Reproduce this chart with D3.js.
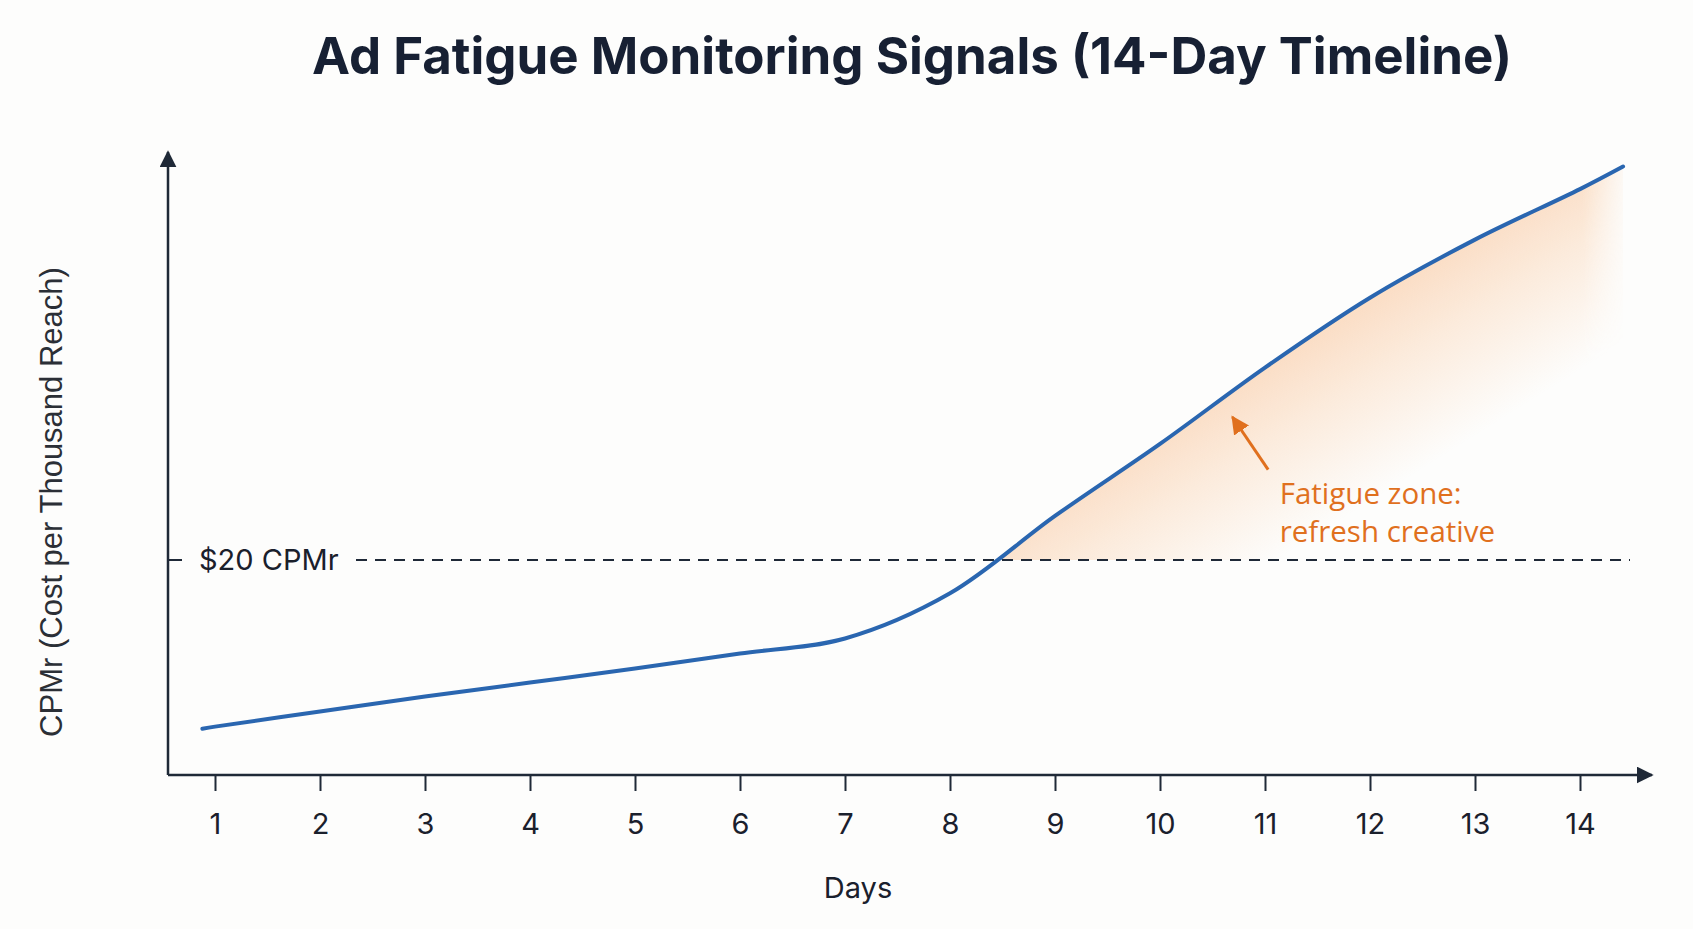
<!DOCTYPE html>
<html>
<head>
<meta charset="utf-8">
<script src="https://cdn.jsdelivr.net/npm/d3@7"></script>
<style>
  html, body { margin: 0; padding: 0; background: #fdfdfc; }
  svg { display: block; }
</style>
</head>
<body>
<div id="chart"></div>
<script>
// data
const days = [1, 2, 3, 4, 5, 6, 7, 8, 9, 10, 11, 12, 13, 14];
const cpmr = [4.5, 5.9, 7.3, 8.6, 9.9, 11.3, 12.7, 16.9, 24.1, 30.8, 37.9, 44.4, 49.8, 54.5];
// the drawn line runs a little past day 1 and day 14
const leadIn = [0.88, 4.3];
const leadOut = [14.41, 56.6];
const threshold = 20;
const thresholdLabel = "$20 CPMr";
const title = "Ad Fatigue Monitoring Signals (14-Day Timeline)";
const xTitle = "Days";
const yTitle = "CPMr (Cost per Thousand Reach)";
const noteLines = ["Fatigue zone:", "refresh creative"];

const width = 1693;
const height = 929;

const axisColor = "#1f2937";
const lineColor = "#2a66b0";
const orange = "#e0701e";

// axes frame
const originX = 168;
const originY = 775;

const x = d3.scaleLinear().domain([1, 14]).range([215, 1580]);
const y = d3.scaleLinear().domain([0, 60]).range([originY, originY - 645]);

const points = [leadIn, ...days.map((d, i) => [d, cpmr[i]]), leadOut];
const curve = d3.curveCatmullRom.alpha(0.5);

const svg = d3.select("#chart")
  .append("svg")
  .attr("width", width)
  .attr("height", height)
  .style("background", "#fdfdfc");

const defs = svg.append("defs");

// arrow heads
defs.append("marker")
  .attr("id", "axisArrow")
  .attr("viewBox", "0 -5 10 10")
  .attr("refX", 9)
  .attr("refY", 0)
  .attr("markerUnits", "userSpaceOnUse")
  .attr("markerWidth", 17)
  .attr("markerHeight", 17)
  .attr("orient", "auto")
  .append("path")
  .attr("fill", axisColor)
  .attr("d", "M0,-5L10,0L0,5Z");

defs.append("marker")
  .attr("id", "noteArrow")
  .attr("viewBox", "0 -5 10 10")
  .attr("refX", 9)
  .attr("refY", 0)
  .attr("markerUnits", "userSpaceOnUse")
  .attr("markerWidth", 18)
  .attr("markerHeight", 18)
  .attr("orient", "auto")
  .append("path")
  .attr("fill", orange)
  .attr("d", "M0,-5L10,0L0,5Z");

// fatigue zone: area between line and threshold, fading away from the line
const crossIdx = cpmr.findIndex(v => v >= threshold);
const crossDay = days[crossIdx - 1] +
  (threshold - cpmr[crossIdx - 1]) / (cpmr[crossIdx] - cpmr[crossIdx - 1]);
const p0 = [x(crossDay), y(threshold)];
const p1 = [x(leadOut[0]), y(leadOut[1])];
const dx = p1[0] - p0[0], dy = p1[1] - p0[1];
const len = Math.hypot(dx, dy);
const nx = -dy / len, ny = dx / len; // points down-right
const mid = [(p0[0] + p1[0]) / 2, (p0[1] + p1[1]) / 2];

const zoneGrad = defs.append("linearGradient")
  .attr("id", "zoneGrad")
  .attr("gradientUnits", "userSpaceOnUse")
  .attr("x1", mid[0] - nx * 30).attr("y1", mid[1] - ny * 30)
  .attr("x2", mid[0] + nx * 150).attr("y2", mid[1] + ny * 150);
zoneGrad.append("stop").attr("offset", 0).attr("stop-color", "#f8a35c").attr("stop-opacity", 0.36);
zoneGrad.append("stop").attr("offset", 0.4).attr("stop-color", "#f8a35c").attr("stop-opacity", 0.2);
zoneGrad.append("stop").attr("offset", 1).attr("stop-color", "#f8a35c").attr("stop-opacity", 0);

const fadeGrad = defs.append("linearGradient")
  .attr("id", "fadeGrad")
  .attr("gradientUnits", "userSpaceOnUse")
  .attr("x1", x(leadOut[0]) - 40).attr("y1", 0)
  .attr("x2", x(leadOut[0]) + 8).attr("y2", 0);
fadeGrad.append("stop").attr("offset", 0).attr("stop-color", "#fff");
fadeGrad.append("stop").attr("offset", 1).attr("stop-color", "#000");

defs.append("mask")
  .attr("id", "fadeMask")
  .attr("maskUnits", "userSpaceOnUse")
  .attr("x", 0).attr("y", 0).attr("width", width).attr("height", height)
  .append("rect")
  .attr("width", width)
  .attr("height", height)
  .attr("fill", "url(#fadeGrad)");

defs.append("clipPath")
  .attr("id", "aboveThreshold")
  .append("rect")
  .attr("x", 0).attr("y", 0)
  .attr("width", width)
  .attr("height", y(threshold));

const area = d3.area()
  .x(d => x(d[0]))
  .y0(y(threshold))
  .y1(d => y(d[1]))
  .curve(curve);

svg.append("g")
  .attr("clip-path", "url(#aboveThreshold)")
  .append("path")
  .datum(points)
  .attr("d", area)
  .attr("fill", "url(#zoneGrad)")
  .attr("mask", "url(#fadeMask)");

// threshold line
svg.append("line")
  .attr("x1", originX + 188).attr("x2", 1630)
  .attr("y1", y(threshold)).attr("y2", y(threshold))
  .attr("stroke", axisColor)
  .attr("stroke-width", 2)
  .attr("stroke-dasharray", "11,8");

svg.append("line")
  .attr("x1", originX).attr("x2", originX + 14)
  .attr("y1", y(threshold)).attr("y2", y(threshold))
  .attr("stroke", axisColor)
  .attr("stroke-width", 2);

svg.append("text")
  .attr("x", originX + 31)
  .attr("y", y(threshold) + 10)
  .attr("font-family", "Inter, 'Noto Sans', sans-serif")
  .attr("font-size", 29)
  .attr("fill", "#1a202c")
  .text(thresholdLabel);

// axes
svg.append("line")
  .attr("x1", originX).attr("y1", originY)
  .attr("x2", originX).attr("y2", 152)
  .attr("stroke", axisColor)
  .attr("stroke-width", 2.5)
  .attr("marker-end", "url(#axisArrow)");

svg.append("line")
  .attr("x1", originX).attr("y1", originY)
  .attr("x2", 1652).attr("y2", originY)
  .attr("stroke", axisColor)
  .attr("stroke-width", 2.5)
  .attr("marker-end", "url(#axisArrow)");

const xAxis = svg.append("g")
  .attr("transform", `translate(0,${originY})`)
  .call(d3.axisBottom(x).tickValues(days).tickSize(16).tickPadding(22).tickFormat(d3.format("d")));

xAxis.select(".domain").remove();
xAxis.selectAll(".tick line")
  .attr("stroke", axisColor)
  .attr("stroke-width", 2);
xAxis.selectAll(".tick text")
  .attr("font-family", "Inter, 'Noto Sans', sans-serif")
  .attr("font-size", 29)
  .attr("fill", "#1a202c");

// CPMr line
const line = d3.line()
  .x(d => x(d[0]))
  .y(d => y(d[1]))
  .curve(curve);

svg.append("path")
  .datum(points)
  .attr("d", line)
  .attr("fill", "none")
  .attr("stroke", lineColor)
  .attr("stroke-width", 4)
  .attr("stroke-linecap", "round");

// annotation
svg.append("line")
  .attr("x1", x(11.03)).attr("y1", y(28.4))
  .attr("x2", x(10.69)).attr("y2", y(33.3))
  .attr("stroke", orange)
  .attr("stroke-width", 3)
  .attr("marker-end", "url(#noteArrow)");

svg.append("text")
  .attr("font-family", "'Open Sans', 'Noto Sans', sans-serif")
  .attr("font-size", 29.5)
  .attr("fill", orange)
  .selectAll("tspan")
  .data(noteLines)
  .join("tspan")
  .attr("x", x(11.14))
  .attr("y", (d, i) => y(25.2) + i * 38)
  .text(d => d);

// titles
svg.append("text")
  .attr("x", 912)
  .attr("y", 74)
  .attr("text-anchor", "middle")
  .attr("font-family", "Inter, 'Noto Sans', sans-serif")
  .attr("font-weight", 700)
  .attr("font-size", 51)
  .attr("fill", "#172033")
  .text(title);

svg.append("text")
  .attr("x", 858)
  .attr("y", 898)
  .attr("text-anchor", "middle")
  .attr("font-family", "Inter, 'Noto Sans', sans-serif")
  .attr("font-size", 29)
  .attr("fill", "#1a202c")
  .text(xTitle);

svg.append("text")
  .attr("transform", "translate(62,502) rotate(-90)")
  .attr("text-anchor", "middle")
  .attr("font-family", "'Liberation Sans', Arial, sans-serif")
  .attr("font-size", 31)
  .attr("fill", "#2b2f36")
  .text(yTitle);
</script>
</body>
</html>
